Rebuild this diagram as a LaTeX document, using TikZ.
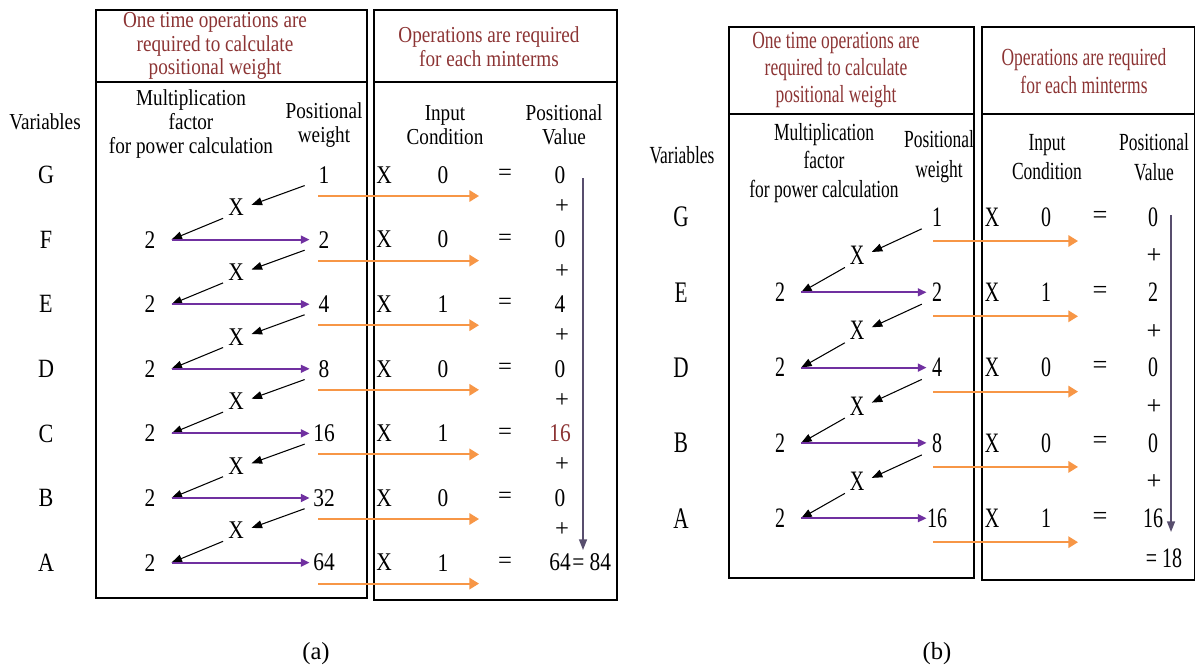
\documentclass[tikz,border=0pt]{standalone}
\usepackage{fontspec}
\setmainfont{Liberation Serif}
\newfontfamily\narrowA[FakeStretch=0.84]{Liberation Serif}
\newfontfamily\narrowB[FakeStretch=0.71]{Liberation Serif}
\usetikzlibrary{arrows.meta,positioning}
\definecolor{headred}{RGB}{140,52,52}
\definecolor{arroworange}{RGB}{247,150,70}
\definecolor{arrowpurple}{RGB}{112,48,160}
\definecolor{sumgray}{RGB}{88,78,110}

\begin{document}
\begin{tikzpicture}[x=0.02cm, y=-0.02cm, >={Triangle[length=6pt,width=4.5pt]},
  txta/.style={font=\narrowA\fontsize{13}{13.5}\selectfont, inner sep=0pt, align=center},
  txtb/.style={font=\narrowB\fontsize{14}{15.5}\selectfont, inner sep=0pt, align=center},
  numa/.style={font=\narrowA\fontsize{14.5}{14.5}\selectfont, inner sep=0pt},
  numb/.style={font=\narrowB\fontsize{16}{16}\selectfont, inner sep=0pt},
  signa/.style={font=\fontsize{14}{14}\selectfont, inner sep=0pt},
  signb/.style={font=\fontsize{15}{15}\selectfont, inner sep=0pt},
  vara/.style={font=\narrowA\fontsize{15}{15}\selectfont, inner sep=0pt},
  varb/.style={font=\narrowB\fontsize{17}{17}\selectfont, inner sep=0pt},
  headline/.style={text=headred},
  blackarrow/.style={->, line width=0.6pt, shorten <=3pt},
  purplearrow/.style={-{Triangle[length=5pt,width=4.5pt]}, arrowpurple, line width=1.1pt},
  orangearrow/.style={-{Triangle[length=5.5pt,width=6.5pt]}, arroworange, line width=1.1pt},
  sumarrow/.style={-{Triangle[length=6pt,width=4.5pt]}, sumgray, line width=0.8pt},
  box/.style={line width=0.6pt}]
  \useasboundingbox (0,0) rectangle (1195,666);

  % ---------- Panel (a) ----------
  % Boxes
  \draw[box] (96,10) rectangle (367,598);
  \draw[box] (96,82) -- (367,82);
  \draw[box] (374,10) rectangle (617,600);
  \draw[box] (374,82) -- (617,82);

  % Headers
  \node[txta, headline] (a-head1) at (215,46) {One time operations are\\required to calculate\\positional weight};
  \node[txta, headline] (a-head2) at (489,47) {Operations are required\\for each minterms};
  \node[txta] (a-vars) at (45,122) {Variables};
  \node[txta] (a-mult) at (191,124) {Multiplication\\factor\\for power calculation};
  \node[txta] (a-pos) at (324,125) {Positional\\weight};
  \node[txta] (a-in) at (445,125) {Input\\Condition};
  \node[txta] (a-val) at (564,125) {Positional\\Value};

  % Rows: variable, weight, input, value
  \foreach \v/\w/\c/\p/\col [count=\i] in {G/1/0/0/black, F/2/0/0/black, E/4/1/4/black,
      D/8/0/0/black, C/16/1/16/headred, B/32/0/0/black, A/64/1/64/black} {
    \pgfmathsetmacro\yy{175+64.6*(\i-1)}
    \node[vara] (a-var-\i) at (46,\yy) {\v};
    \node[numa, minimum width=16pt] (a-w-\i) at (324,\yy) {\w};
    \node[numa] (a-x-\i) at (384,\yy) {X};
    \node[numa] (a-c-\i) at (443,\yy) {\c};
    \node[signa] (a-eq-\i) at (505,\yy) {=};
    \node[numa, text=\col] (a-p-\i) at (560,\yy) {\p};
    \coordinate (a-os-\i) at (318,\yy+21);
    \coordinate (a-oe-\i) at (479,\yy+21);
    \draw[orangearrow] (a-os-\i) -- (a-oe-\i);
  }

  % Multiplication by 2
  \foreach \i [count=\j] in {2,...,7} {
    \pgfmathsetmacro\yy{175+64.6*(\i-1)}
    \node[numa, inner xsep=9pt] (a-f-\i) at (150,\yy) {2};
    \node[numa] (a-m-\i) at (236,\yy-32) {X};
    \node[signa] (a-plus-\j) at (562,\yy-33) {+};
    \draw[blackarrow, shorten >=4.5pt] (a-w-\j.south west) -- (a-m-\i.east);
    \draw[blackarrow] (a-m-\i.south west) -- (a-f-\i.east);
    \draw[purplearrow] (a-f-\i.east) -- (a-w-\i.west);
  }

  % Sum
  \coordinate (a-sumtop) at (583,178);
  \coordinate (a-sumend) at (583,550);
  \draw[sumarrow] (a-sumtop) -- (a-sumend);
  \node[numa, right=0.5pt of a-p-7] (a-total) {= 84};
  \node[font=\fontsize{14}{14}\selectfont] (a-cap) at (316,654) {(a)};

  % ---------- Panel (b) ----------
  % Boxes
  \draw[box] (729,27) rectangle (974,578);
  \draw[box] (729,114) -- (974,114);
  \draw[box] (982,27) rectangle (1194.5,580);
  \draw[box] (982,114) -- (1194.5,114);

  % Headers
  \node[txtb, headline] (b-head1) at (836,70) {One time operations are\\required to calculate\\positional weight};
  \node[txtb, headline] (b-head2) at (1084,71) {Operations are required\\for each minterms};
  \node[txtb] (b-vars) at (682,155) {Variables};
  \node[txtb, font=\narrowB\fontsize{14}{16}\selectfont] (b-mult) at (824,163) {Multiplication\\factor\\for power calculation};
  \node[txtb, font=\narrowB\fontsize{14}{17}\selectfont] (b-pos) at (939,157) {Positional\\weight};
  \node[txtb, font=\narrowB\fontsize{14}{17}\selectfont] (b-in) at (1047,157) {Input\\Condition};
  \node[txtb, font=\narrowB\fontsize{14}{17}\selectfont] (b-val) at (1154,157) {Positional\\Value};

  % Rows: variable, weight, input, value
  \foreach \v/\w/\c/\p [count=\i] in {G/1/0/0, E/2/1/2, D/4/0/0, B/8/0/0, A/16/1/16} {
    \pgfmathsetmacro\yy{217+75.3*(\i-1)}
    \node[varb] (b-var-\i) at (681,\yy) {\v};
    \node[numb, minimum width=11.5pt] (b-w-\i) at (937,\yy) {\w};
    \node[numb] (b-x-\i) at (992,\yy) {X};
    \node[numb] (b-c-\i) at (1046,\yy) {\c};
    \node[signb] (b-eq-\i) at (1100,\yy) {=};
    \node[numb] (b-p-\i) at (1153,\yy) {\p};
    \coordinate (b-os-\i) at (933,\yy+24);
    \coordinate (b-oe-\i) at (1078,\yy+24);
    \draw[orangearrow] (b-os-\i) -- (b-oe-\i);
  }

  % Multiplication by 2
  \foreach \i [count=\j] in {2,...,5} {
    \pgfmathsetmacro\yy{217+75.3*(\i-1)}
    \node[numb, inner xsep=9pt] (b-f-\i) at (780,\yy) {2};
    \node[numb] (b-m-\i) at (857,\yy-37) {X};
    \node[signb] (b-plus-\j) at (1154,\yy-36) {+};
    \draw[blackarrow, shorten >=4.5pt] (b-w-\j.south west) -- (b-m-\i.east);
    \draw[blackarrow] (b-m-\i.south west) -- (b-f-\i.east);
    \draw[purplearrow] (b-f-\i.east) -- (b-w-\i.west);
  }

  % Sum
  \coordinate (b-sumtop) at (1171,215);
  \coordinate (b-sumend) at (1171,532);
  \draw[sumarrow] (b-sumtop) -- (b-sumend);
  \node[numb] (b-total) at (1164,558) {= 18};
  \node[font=\fontsize{14}{14}\selectfont] (b-cap) at (937,654) {(b)};
\end{tikzpicture}
\end{document}
